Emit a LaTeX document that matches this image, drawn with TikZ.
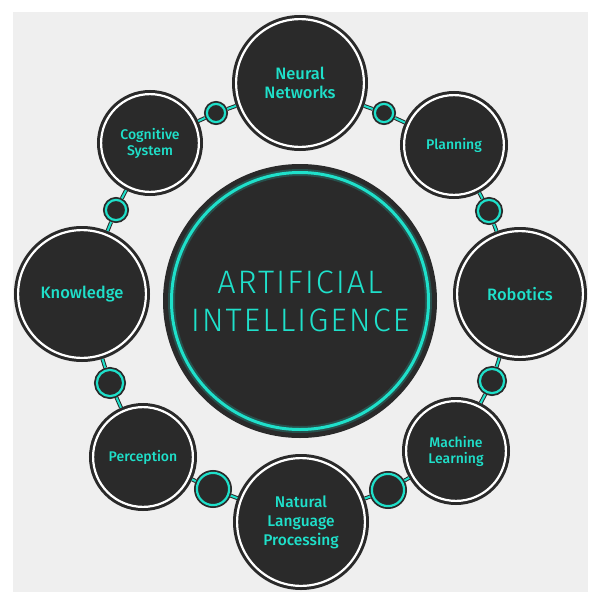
\documentclass[tikz,border=0pt]{standalone}
\usepackage{fontspec}
\setsansfont{Fira Sans}
\newfontfamily\labelfont{Fira Sans Medium}
\newfontfamily\corefont{Fira Sans Light}[LetterSpace=6]
\usepackage{tikz}
\definecolor{panelgray}{HTML}{EFEFEF}
\definecolor{darkdisc}{HTML}{2A2A2A}
\definecolor{aiteal}{HTML}{1FE0CA}

\begin{document}
\begin{tikzpicture}[
    x=1pt, y=-1pt,
    bignode/.style={circle, fill=darkdisc, draw=darkdisc, double=white,
        line width=3pt, double distance=2.2pt, inner sep=0pt, outer sep=4.1pt,
        minimum size={2*#1pt-8.2pt}, text=aiteal, align=center},
    largelabel/.style={font=\labelfont\fontsize{16.5}{19}\selectfont},
    smalllabel/.style={font=\labelfont\fontsize{14}{16}\selectfont},
    joint/.style={circle, fill=darkdisc, draw=darkdisc, double=aiteal,
        line width=1.8pt, double distance=2.2pt, inner sep=0pt, outer sep=2.9pt,
        minimum size={2*#1pt-5.8pt}},
    link/.style={draw=darkdisc, double=aiteal, line width=1pt, double distance=2pt}
]
    \useasboundingbox (0,0) rectangle (607,608);
    \fill[white] (0,0) rectangle (607,608);
    \fill[panelgray] (13,12) rectangle (588,592);

    % centre
    \node[circle, fill=darkdisc, draw=darkdisc, double=aiteal, line width=7pt,
          double distance=3pt, minimum size=257pt, inner sep=0pt,
          text=aiteal, align=center,
          font=\corefont\fontsize{32.5}{38}\selectfont] (ai) at (300,301)
          {ARTIFICIAL\\INTELLIGENCE};
    \draw[aiteal, opacity=0.22, line width=7pt] (ai.center) circle[radius=128.5];

    % outer ring of topics
    \node[bignode=68, largelabel] (neural) at (300,83) {Neural\\Networks};
    \node[bignode=54, smalllabel] (plan) at (454,145) {Planning};
    \node[bignode=67, largelabel] (robot) at (520,294) {Robotics};
    \node[bignode=54, smalllabel] (mlearn) at (456,451) {Machine\\Learning};
    \node[bignode=68, largelabel, font=\labelfont\fontsize{15.5}{19}\selectfont]
          (nlp) at (301,522) {Natural\\Language\\Processing};
    \node[bignode=54, smalllabel] (percep) at (143,457) {Perception};
    \node[bignode=68, largelabel] (know) at (82,294) {Knowledge};
    \node[bignode=53, smalllabel] (cogn) at (150,143) {Cognitive\\System};

    % joints
    \node[joint=12] (j1) at (216,113) {};
    \node[joint=12] (j2) at (384,113) {};
    \node[joint=14] (j3) at (489,211) {};
    \node[joint=15] (j4) at (492,381) {};
    \node[joint=19] (j5) at (388,490) {};
    \node[joint=19] (j6) at (213,489) {};
    \node[joint=16] (j7) at (110,383) {};
    \node[joint=13] (j8) at (116,210) {};

    \draw[link] (cogn) -- (j1);
    \draw[link] (j1) -- (neural);
    \draw[link] (neural) -- (j2);
    \draw[link] (j2) -- (plan);
    \draw[link] (plan) -- (j3);
    \draw[link] (j3) -- (robot);
    \draw[link] (robot) -- (j4);
    \draw[link] (j4) -- (mlearn);
    \draw[link] (mlearn) -- (j5);
    \draw[link] (j5) -- (nlp);
    \draw[link] (nlp) -- (j6);
    \draw[link] (j6) -- (percep);
    \draw[link] (percep) -- (j7);
    \draw[link] (j7) -- (know);
    \draw[link] (know) -- (j8);
    \draw[link] (j8) -- (cogn);
\end{tikzpicture}
\end{document}
